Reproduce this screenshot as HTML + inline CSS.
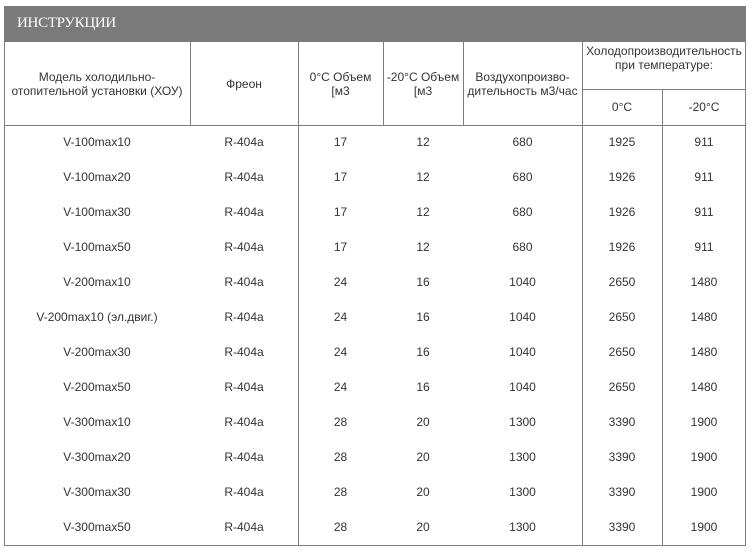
<!DOCTYPE html>
<html><head><meta charset="utf-8"><style>
body{margin:0;width:753px;height:553px;background:#fff;position:relative;overflow:hidden;font-family:"Liberation Sans",Arial,sans-serif;color:#333;font-size:12px}
.bar{position:absolute;left:4px;top:6px;width:742px;height:36px;background:#7a7a7a}
.bar span{position:absolute;left:13px;top:9px;color:#fff;font-family:"Liberation Serif",serif;font-size:15px;letter-spacing:-0.3px}
.l{position:absolute;background:#7d7d7d}
.t{position:absolute;text-align:center;line-height:14px}
</style></head><body>
<div class="bar"><span>ИНСТРУКЦИИ</span></div>
<!-- outer borders -->
<div class="l" style="left:4px;top:42px;width:1px;height:504px"></div>
<div class="l" style="left:745px;top:42px;width:1px;height:504px"></div>
<div class="l" style="left:4px;top:545px;width:742px;height:1px"></div>
<div class="l" style="left:4px;top:125px;width:742px;height:1px"></div>
<div class="l" style="left:582px;top:89px;width:164px;height:1px"></div>
<!-- header verticals -->
<div class="l" style="left:190px;top:42px;width:1px;height:83px"></div>
<div class="l" style="left:383px;top:42px;width:1px;height:83px"></div>
<div class="l" style="left:463px;top:42px;width:1px;height:83px"></div>
<div class="l" style="left:662px;top:89px;width:1px;height:36px"></div>
<!-- full verticals -->
<div class="l" style="left:298px;top:42px;width:1px;height:504px"></div>
<div class="l" style="left:582px;top:42px;width:1px;height:504px"></div>
<div class="l" style="left:662px;top:125px;width:1px;height:421px"></div>
<!-- header text -->
<div class="t" style="left:4px;width:186px;top:70px">Модель холодильно-<br>отопительной установки (ХОУ)</div>
<div class="t" style="left:190px;width:108px;top:77px">Фреон</div>
<div class="t" style="left:298px;width:85px;top:70px">0°C Объем<br>[м3</div>
<div class="t" style="left:383px;width:80px;top:70px">-20°C Объем<br>[м3</div>
<div class="t" style="left:463px;width:119px;top:70px">Воздухопроизво-<br>дительность м3/час</div>
<div class="t" style="left:582px;width:164px;top:44px">Холодопроизводительность<br>при температуре:</div>
<div class="t" style="left:582px;width:80px;top:100px">0°C</div>
<div class="t" style="left:662px;width:84px;top:100px">-20°C</div>
<div id="rows"></div>
<script>
var d=[["V-100max10",17,12,680,1925,911],["V-100max20",17,12,680,1926,911],["V-100max30",17,12,680,1926,911],["V-100max50",17,12,680,1926,911],["V-200max10",24,16,1040,2650,1480],["V-200max10 (эл.двиг.)",24,16,1040,2650,1480],["V-200max30",24,16,1040,2650,1480],["V-200max50",24,16,1040,2650,1480],["V-300max10",28,20,1300,3390,1900],["V-300max20",28,20,1300,3390,1900],["V-300max30",28,20,1300,3390,1900],["V-300max50",28,20,1300,3390,1900]];
var cols=[[4,186],[190,108],[298,85],[383,80],[463,119],[582,80],[662,84]];
var h="";
d.forEach(function(r,i){var v=[r[0],"R-404a",r[1],r[2],r[3],r[4],r[5]];var y=135+i*35;
v.forEach(function(x,j){h+='<div class="t" style="left:'+cols[j][0]+'px;width:'+cols[j][1]+'px;top:'+y+'px">'+x+'</div>';});});
document.getElementById("rows").innerHTML=h;
</script>
</body></html>
